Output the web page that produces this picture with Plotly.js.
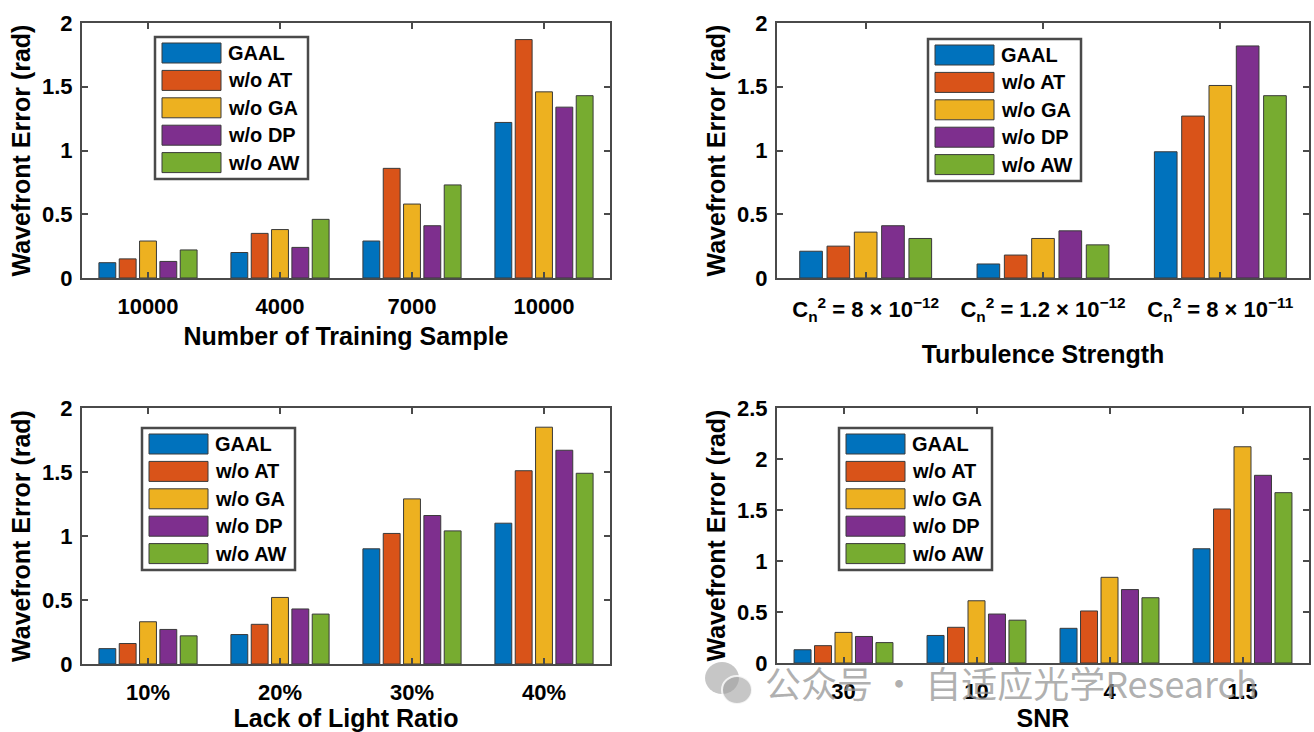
<!DOCTYPE html>
<html><head><meta charset="utf-8">
<script src="https://cdn.plot.ly/plotly-3.0.1.min.js"></script>
<style>html,body{margin:0;padding:0;background:#fff;}#chart{width:1314px;height:732px;}</style>
</head><body><div id="chart"></div>
<script>
// ---------- data ----------
const seriesNames = ['GAAL', 'w/o AT', 'w/o GA', 'w/o DP', 'w/o AW'];
const seriesColors = ['#0072BD', '#D95319', '#EDB120', '#7E2F8E', '#77AC30'];

const sampleLabels = ['10000', '4000', '7000', '10000'];
const sampleGAAL = [0.12, 0.20, 0.29, 1.22];
const sampleNoAT = [0.15, 0.35, 0.86, 1.87];
const sampleNoGA = [0.29, 0.38, 0.58, 1.46];
const sampleNoDP = [0.13, 0.24, 0.41, 1.34];
const sampleNoAW = [0.22, 0.46, 0.73, 1.43];

const turbLabels = ['C<sub>n</sub><sup>2</sup> = 8 × 10<sup>−12</sup>',
                    'C<sub>n</sub><sup>2</sup> = 1.2 × 10<sup>−12</sup>',
                    'C<sub>n</sub><sup>2</sup> = 8 × 10<sup>−11</sup>'];
const turbGAAL = [0.21, 0.11, 0.99];
const turbNoAT = [0.25, 0.18, 1.27];
const turbNoGA = [0.36, 0.31, 1.51];
const turbNoDP = [0.41, 0.37, 1.82];
const turbNoAW = [0.31, 0.26, 1.43];

const lackLabels = ['10%', '20%', '30%', '40%'];
const lackGAAL = [0.12, 0.23, 0.90, 1.10];
const lackNoAT = [0.16, 0.31, 1.02, 1.51];
const lackNoGA = [0.33, 0.52, 1.29, 1.85];
const lackNoDP = [0.27, 0.43, 1.16, 1.67];
const lackNoAW = [0.22, 0.39, 1.04, 1.49];

const snrLabels = ['30', '10', '4', '1.5'];
const snrGAAL = [0.13, 0.27, 0.34, 1.12];
const snrNoAT = [0.17, 0.35, 0.51, 1.51];
const snrNoGA = [0.30, 0.61, 0.84, 2.12];
const snrNoDP = [0.26, 0.48, 0.72, 1.84];
const snrNoAW = [0.20, 0.42, 0.64, 1.67];

const yTickVals2 = [0, 0.5, 1, 1.5, 2];
const yTickText2 = ['0', '0.5', '1', '1.5', '2'];
const yTickVals25 = [0, 0.5, 1, 1.5, 2, 2.5];
const yTickText25 = ['0', '0.5', '1', '1.5', '2', '2.5'];

const watermarkText = '公众号 · 自适应光学Research';

// ---------- build ----------
const W = 1314, H = 732;
const FONT = 'Liberation Sans, Arial, Helvetica, sans-serif';

const panels = [
  { ax: '', labels: sampleLabels, series: [sampleGAAL, sampleNoAT, sampleNoGA, sampleNoDP, sampleNoAW],
    xtitle: 'Number of Training Sample', xstand: 9, xlab: 8, yvals: yTickVals2, ytext: yTickText2, ymax: 2,
    px: [82, 610], py: [23, 278], legend: [155, 37] },
  { ax: '2', labels: turbLabels, series: [turbGAAL, turbNoAT, turbNoGA, turbNoDP, turbNoAW],
    xtitle: 'Turbulence Strength', xstand: 21, xlab: 11, yvals: yTickVals2, ytext: yTickText2, ymax: 2,
    px: [777, 1309], py: [23, 278], legend: [928, 39] },
  { ax: '3', labels: lackLabels, series: [lackGAAL, lackNoAT, lackNoGA, lackNoDP, lackNoAW],
    xtitle: 'Lack of Light Ratio', xstand: 12, xlab: 8, yvals: yTickVals2, ytext: yTickText2, ymax: 2,
    px: [82, 610], py: [408, 664], legend: [142, 428] },
  { ax: '4', labels: snrLabels, series: [snrGAAL, snrNoAT, snrNoGA, snrNoDP, snrNoAW],
    xtitle: 'SNR', xstand: 12, xlab: 8, yvals: yTickVals25, ytext: yTickText25, ymax: 2.5,
    px: [777, 1309], py: [408, 663], legend: [839, 428] }
];

const traces = [];
const layout = {
  width: W, height: H,
  margin: { l: 0, r: 0, t: 0, b: 0 },
  paper_bgcolor: '#ffffff', plot_bgcolor: '#ffffff',
  barmode: 'group', bargap: 0.23, bargroupgap: 0.17,
  showlegend: false,
  font: { family: FONT, color: '#000000' },
  shapes: [], annotations: []
};

const frameColor = '#4a4a4a';

panels.forEach(p => {
  const xs = p.labels.map((_, i) => i + 1);
  p.series.forEach((vals, s) => {
    traces.push({
      type: 'bar', x: xs, y: vals, name: seriesNames[s],
      xaxis: 'x' + p.ax, yaxis: 'y' + p.ax,
      marker: { color: seriesColors[s], line: { color: '#3a3a3a', width: 1 } },
      hoverinfo: 'y+name'
    });
  });
  const xa = {
    domain: [p.px[0] / W, p.px[1] / W],
    anchor: 'y' + p.ax,
    range: [0.5, p.labels.length + 0.5],
    tickmode: 'array', tickvals: xs, ticktext: p.labels, tickangle: 0,
    ticks: 'inside', ticklen: 6, tickwidth: 2, tickcolor: frameColor,
    showline: true, linecolor: frameColor, linewidth: 2, mirror: 'ticks',
    showgrid: false, zeroline: false, fixedrange: true, automargin: false,
    ticklabelstandoff: p.xlab,
    tickfont: { family: FONT, size: 22, weight: 'bold', color: '#000' },
    title: { text: p.xtitle, standoff: p.xstand, font: { family: FONT, size: 25, weight: 'bold', color: '#000' } }
  };
  const ya = {
    domain: [1 - p.py[1] / H, 1 - p.py[0] / H],
    anchor: 'x' + p.ax,
    range: [0, p.ymax],
    tickmode: 'array', tickvals: p.yvals, ticktext: p.ytext,
    ticks: 'inside', ticklen: 6, tickwidth: 2, tickcolor: frameColor,
    showline: true, linecolor: frameColor, linewidth: 2, mirror: 'ticks',
    showgrid: false, zeroline: false, fixedrange: true, automargin: false,
    ticklabelstandoff: 3,
    tickfont: { family: FONT, size: 22, weight: 'bold', color: '#000' },
    title: { text: 'Wavefront Error (rad)', standoff: 4, font: { family: FONT, size: 25, weight: 'bold', color: '#000' } }
  };
  layout['xaxis' + p.ax] = xa;
  layout['yaxis' + p.ax] = ya;

  // custom legend (large swatches like the original)
  const [lx, ly] = p.legend;
  const bw = 153, bh = 142;
  layout.shapes.push({
    type: 'rect', xref: 'paper', yref: 'paper', layer: 'above',
    x0: lx / W, x1: (lx + bw) / W, y0: 1 - ly / H, y1: 1 - (ly + bh) / H,
    fillcolor: '#ffffff', line: { color: frameColor, width: 2.5 }
  });
  seriesNames.forEach((nm, s) => {
    const cy = ly + 16 + s * 27.4;
    layout.shapes.push({
      type: 'rect', xref: 'paper', yref: 'paper', layer: 'above',
      x0: (lx + 7) / W, x1: (lx + 66) / W, y0: 1 - (cy - 10) / H, y1: 1 - (cy + 10) / H,
      fillcolor: seriesColors[s], line: { color: '#3a3a3a', width: 1 }
    });
    layout.annotations.push({
      xref: 'paper', yref: 'paper', x: (lx + 71) / W, y: 1 - cy / H,
      xanchor: 'left', yanchor: 'middle', showarrow: false, text: nm,
      font: { family: FONT, size: 20, weight: 'bold', color: '#000' }
    });
  });
});

// watermark overlay seen on the reference (icon + text)
layout.shapes.push({
  type: 'circle', xref: 'paper', yref: 'paper', layer: 'above',
  x0: 705 / W, x1: 739 / W, y0: 1 - 662 / H, y1: 1 - 694 / H,
  fillcolor: 'rgba(160,160,160,0.6)', line: { width: 0 }
});
layout.shapes.push({
  type: 'circle', xref: 'paper', yref: 'paper', layer: 'above',
  x0: 722 / W, x1: 752 / W, y0: 1 - 676 / H, y1: 1 - 704 / H,
  fillcolor: 'rgba(160,160,160,0.6)', line: { color: 'rgba(255,255,255,0.8)', width: 2 }
});
layout.annotations.push({
  xref: 'paper', yref: 'paper', x: 763 / W, y: 1 - 682 / H,
  xanchor: 'left', yanchor: 'middle', showarrow: false, text: watermarkText,
  font: { family: 'Noto Sans CJK SC, Noto Sans, sans-serif', size: 36, color: 'rgba(150,150,150,0.75)' }
});

Plotly.newPlot('chart', traces, layout, { displayModeBar: false, staticPlot: true });
</script>
</body></html>
